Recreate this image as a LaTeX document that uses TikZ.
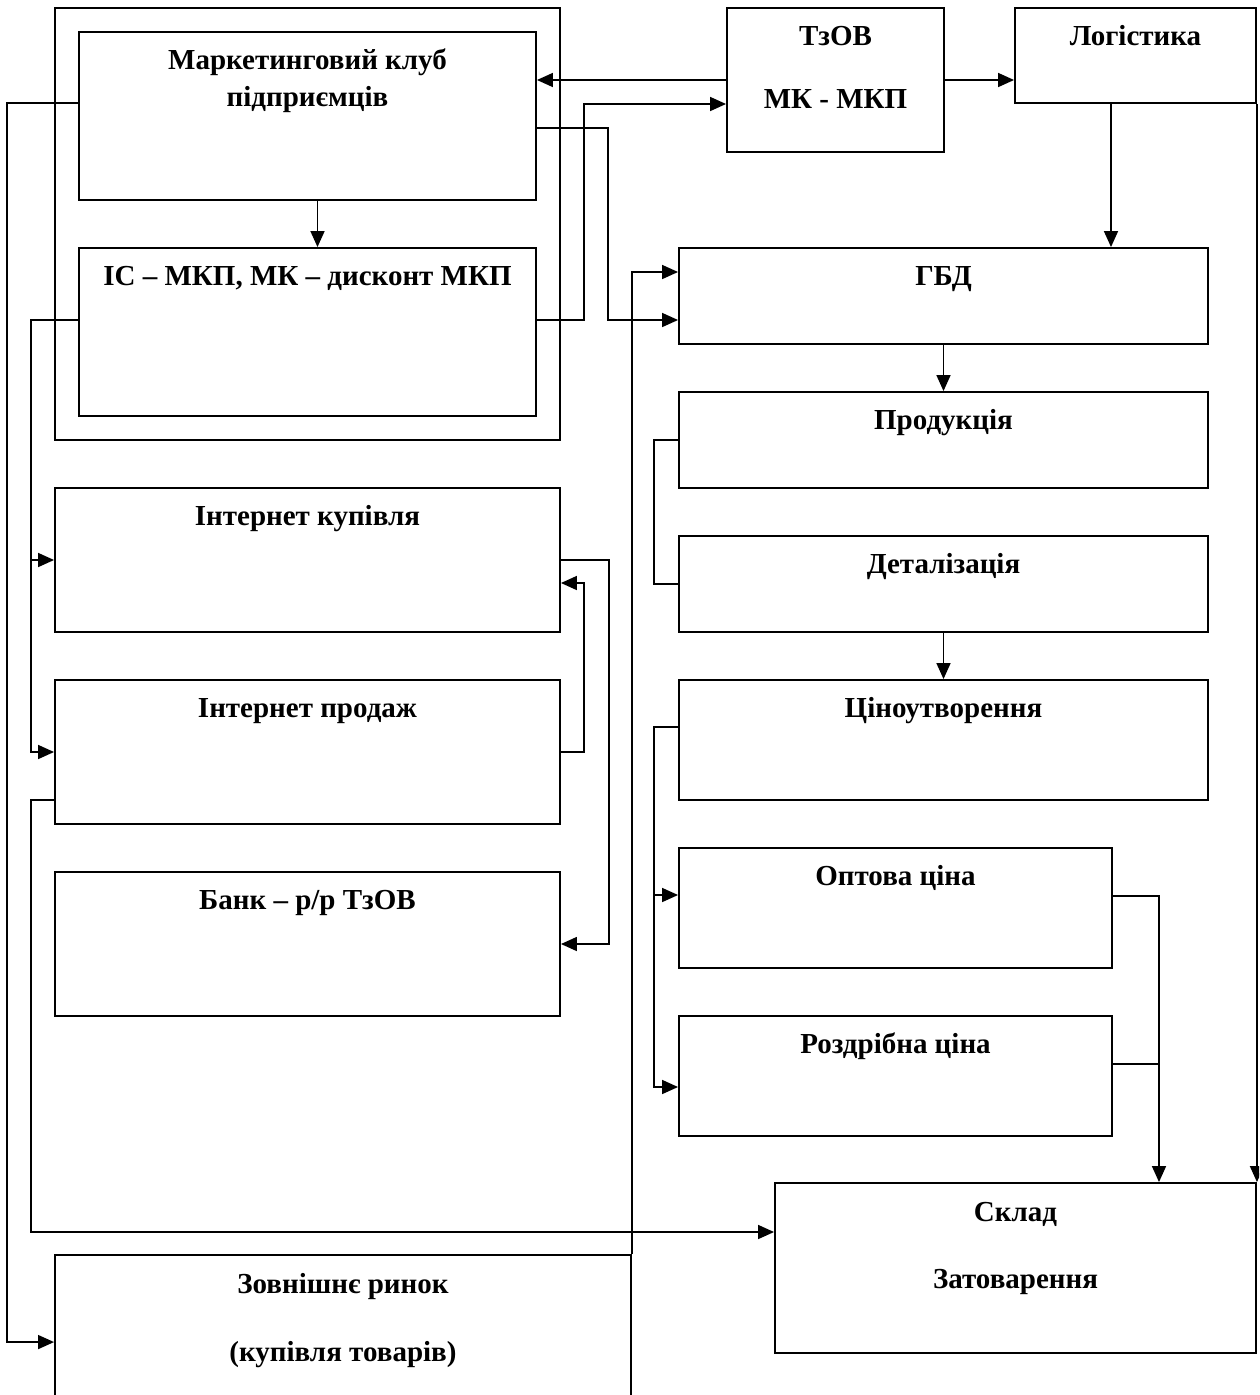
\documentclass[tikz,border=0pt]{standalone}
\usepackage{fontspec}
\setmainfont{Liberation Serif}
\usetikzlibrary{arrows.meta}

\tikzset{
  box/.style={draw, line width=1.9pt, inner sep=0pt},
  txt/.style={font=\fontsize{29}{37}\selectfont\bfseries, align=center, anchor=base, inner sep=0pt},
  link/.style={line width=1.6pt},
  arr/.style={link, -{Triangle[length=16pt,width=14pt]}}
}

\begin{document}
\begin{tikzpicture}[x=1pt,y=-1pt]
  \useasboundingbox (0,0) rectangle (1259,1395);
  \clip (0,0) rectangle (1259,1395);
  % Boxes
  \foreach \n/\x/\y/\w/\h in {frame/307.5/224/505/432, club/307.5/116/457/168, is/307.5/332/457/168,
      tzov/835.5/80/217/144, logist/1135.5/55.5/241/95, gbd/943.5/296/529/96,
      prod/943.5/440/529/96, det/943.5/584/529/96, price/943.5/740/529/120,
      opt/895.5/908/433/120, rozd/895.5/1076/433/120, sklad/1015.5/1268/481/170,
      ibuy/307.5/560/505/144, isell/307.5/752/505/144, bank/307.5/944/505/144,
      ext/343/1337.5/576/165} {
    \node[box, minimum width=\w pt, minimum height=\h pt] (\n) at (\x,\y) {};
  }
  % Labels (the offset is that of the last line's baseline)
  \foreach \n/\d/\t in {club/75/{Маркетинговий клуб\\підприємців}, is/38/{ІС – МКП, МК – дисконт МКП},
      tzov/101/{ТзОВ\\[26pt]МК - МКП}, logist/38/{Логістика}, gbd/38/{ГБД}, prod/38/{Продукція},
      det/38/{Деталізація}, price/38/{Ціноутворення}, opt/38/{Оптова ціна}, rozd/38/{Роздрібна ціна},
      sklad/106/{Склад\\[30pt]Затоварення}, ibuy/38/{Інтернет купівля}, isell/38/{Інтернет продаж},
      bank/38/{Банк – р/р ТзОВ}, ext/107/{Зовнішнє ринок\\[31pt](купівля товарів)}} {
    \node[txt] (t-\n) at ([yshift=-\d pt]\n.north) {\t};
  }
  % Club -> IS
  \draw[arr] ([xshift=10pt]club.south) -- ([xshift=10pt]is.north);
  % TzOV -> club, TzOV -> logistics
  \draw[arr] (tzov.west) -- (tzov.west -| club.east);
  \draw[arr] (tzov.east) -- (tzov.east -| logist.west);
  % IS -> TzOV
  \draw[arr] ([yshift=12pt]is.east) -- ++(47,0) |- ([yshift=-24pt]tzov.west);
  % Club -> GBD
  \draw[arr] ([yshift=-12pt]club.east) -- ++(71,0) |- ([yshift=-24pt]gbd.west);
  % External market -> GBD
  \draw[arr] (ext.north east) |- ([yshift=24pt]gbd.west);
  % Logistics -> GBD, logistics -> warehouse
  \coordinate (lg) at ([xshift=-24.5pt]logist.south);
  \draw[arr] (lg) -- (lg |- gbd.north);
  \draw[arr] (logist.south east) -- (sklad.north east);
  % GBD -> products, detail -> pricing
  \draw[arr] (gbd.south) -- (prod.north);
  \draw[arr] (det.south) -- (price.north);
  % Products -- detail
  \draw[link] (prod.west) -- ++(-24,0) |- (det.west);
  % Pricing -> wholesale, retail
  \draw[arr] ([yshift=13pt]price.west) -- ++(-24,0) |- ([yshift=-11pt]rozd.west);
  \draw[arr] ([xshift=-24pt,yshift=13pt]opt.west) -- ([yshift=13pt]opt.west);
  % Wholesale, retail -> warehouse
  \coordinate (skin) at ([xshift=143.5pt]sklad.north);
  \coordinate (ro) at ([yshift=12pt]rozd.east);
  \draw[arr] ([yshift=12pt]opt.east) -| (skin);
  \draw[link] (ro) -- (ro -| skin);
  % Internet purchase -> bank, internet sale -> purchase
  \draw[arr] (ibuy.east) -- ++(48,0) |- (bank.east);
  \draw[arr] (isell.east) -- ++(23,0) |- ([yshift=-23pt]ibuy.east);
  % Club -> external market
  \draw[arr] ([yshift=13pt]club.west) -- ++(-71,0) |- ([yshift=-88pt]ext.north west);
  % IS -> internet purchase, sale
  \draw[arr] ([yshift=12pt]is.west) -- ++(-47,0) |- (isell.west);
  \draw[arr] ([xshift=-23pt]ibuy.west) -- (ibuy.west);
  % Internet sale -> warehouse
  \draw[arr] ([yshift=-48pt]isell.west) -- ++(-23,0) |- ([yshift=36pt]sklad.west);
\end{tikzpicture}
\end{document}
